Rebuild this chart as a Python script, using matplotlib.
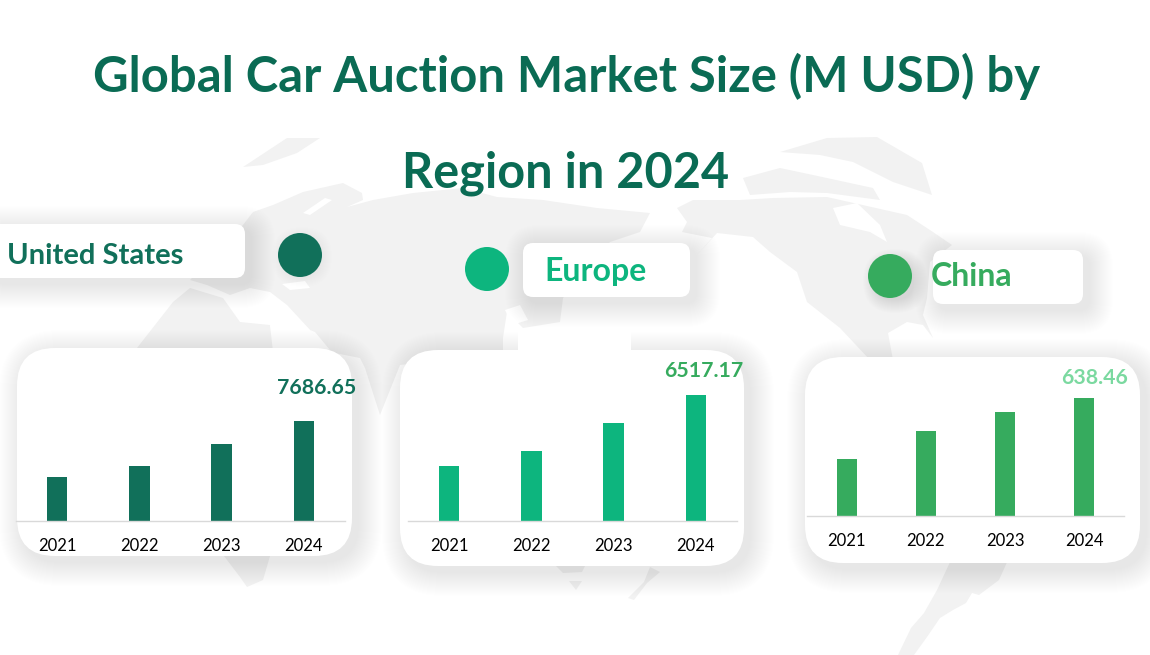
import matplotlib
matplotlib.use("Agg")
from matplotlib import pyplot as plt
from matplotlib.patches import Circle, FancyBboxPatch, Polygon, Rectangle

plt.rcParams['font.family'] = ['Lato', 'DejaVu Sans']

years = ['2021', '2022', '2023', '2024']
us_values = [3382.1, 4227.7, 5918.7, 7686.65]
europe_values = [2844.6, 3620.7, 5068.9, 6517.17]
china_values = [305.6, 458.5, 562.1, 638.46]

title_line1 = 'Global Car Auction Market Size (M USD) by'
title_line2 = 'Region in 2024'

W, H = 1150, 655
DARK = '#0A6B54'
MAP = '#F2F2F2'

fig = plt.figure(figsize=(W / 100, H / 100), dpi=100)
bg = fig.add_axes([0, 0, 1, 1])
bg.set_xlim(0, W)
bg.set_ylim(H, 0)
bg.axis('off')

# background world map, traced roughly in pixels
land = [
    # eurasia
    [(190, 280), (207, 285), (230, 295), (250, 288), (270, 292), (287, 305), (312, 332), (330, 352),
     (360, 358), (365, 368), (380, 415), (400, 365), (503, 352), (503, 338), (507, 312), (523, 328),
     (560, 322), (563, 298), (610, 242), (640, 232), (650, 213), (597, 208), (543, 200), (497, 197),
     (463, 188), (413, 193), (373, 200), (347, 207), (363, 200), (362, 193), (343, 183), (303, 192),
     (273, 205), (253, 212), (243, 225)],
    # africa
    [(137, 348), (173, 302), (190, 288), (223, 298), (240, 322), (270, 325), (276, 352), (137, 352)],
    [(224, 556), (270, 556), (263, 580), (247, 587), (240, 577)],
    # svalbard
    [(243, 167), (287, 138), (320, 138), (297, 153), (263, 165)],
    # north america
    [(677, 208), (693, 200), (740, 200), (773, 198), (827, 197), (907, 215), (933, 232), (952, 245),
     (930, 262), (927, 298), (923, 315), (933, 338), (923, 325), (907, 322), (888, 333), (893, 360),
     (870, 360), (840, 328), (807, 302), (797, 272), (770, 252), (753, 237), (717, 233), (697, 255),
     (712, 238), (682, 232), (687, 222)],
    # arctic islands
    [(743, 178), (780, 168), (813, 175), (873, 188), (880, 200), (827, 193), (790, 192), (750, 195)],
    # greenland
    [(780, 152), (827, 138), (877, 137), (922, 163), (932, 195), (893, 182), (853, 162), (820, 155)],
    # australia, tasmania, new zealand
    [(556, 566), (585, 566), (582, 572), (563, 573)],
    [(569, 581), (582, 581), (576, 590)],
    [(650, 567), (660, 572), (647, 583), (634, 600), (628, 598), (644, 582)],
    # south america
    [(951, 560), (1008, 560), (999, 580), (979, 595), (972, 593), (966, 603), (953, 610), (940, 618),
     (927, 637), (914, 655), (898, 655), (911, 628), (924, 613), (937, 590)],
]
for pts in land:
    bg.add_patch(Polygon(pts, closed=True, fc=MAP, ec='none', zorder=1))

# seas cut out of the map
seas = [
    [(833, 208), (857, 203), (880, 225), (887, 242), (870, 232), (840, 225)],  # hudson bay
    [(282, 284), (305, 281), (310, 288), (290, 290)],  # black sea
    [(270, 325), (276, 325), (279, 352), (273, 352)],  # red sea
    [(310, 330), (315, 332), (330, 350), (322, 348)],  # gulf
    [(303, 213), (325, 198), (332, 200), (310, 215)],  # baltic
    [(505, 310), (520, 305), (528, 320), (512, 325)],  # sea of japan
]
for pts in seas:
    bg.add_patch(Polygon(pts, closed=True, fc='white', ec='none', zorder=1.1))


def shadow(x0, y0, x1, y1, rad, dx=6, dy=6, layers=24, alpha=0.0035):
    for i in range(layers):
        g = layers - i
        bg.add_patch(FancyBboxPatch((x0 + dx - g, y0 + dy - g), x1 - x0 + 2 * g, y1 - y0 + 2 * g,
                                    boxstyle='round,pad=0,rounding_size=%f' % (rad + g),
                                    fc='black', ec='none', alpha=alpha, zorder=2))


def card(x0, y0, x1, y1, rad, **kw):
    shadow(x0, y0, x1, y1, rad, **kw)
    bg.add_patch(FancyBboxPatch((x0, y0), x1 - x0, y1 - y0,
                                boxstyle='round,pad=0,rounding_size=%f' % rad,
                                fc='white', ec='none', zorder=3))


# chart cards
card(17, 348, 352, 556, 38)
card(400, 350, 744, 566, 38)
card(805, 357, 1140, 563, 38)
bg.add_patch(Rectangle((518, 330), 113, 22, fc='white', ec='none', zorder=3))

# name tags
card(-10, 224, 245, 278, 10)
card(523, 243, 690, 297, 10)
card(933, 250, 1083, 304, 10)

# dots
shadow(282, 237, 318, 273, 18, dx=2, dy=2, layers=12, alpha=0.002)
shadow(873, 259, 909, 295, 18, dx=4, dy=4, layers=14, alpha=0.006)
bg.add_patch(Circle((300, 255), 22, fc='#11705A', ec='none', zorder=4))
bg.add_patch(Circle((487, 269), 22, fc='#0DB57E', ec='none', zorder=4))
bg.add_patch(Circle((890, 276), 22, fc='#36AB5E', ec='none', zorder=4))

bg.text(7, 256, 'United States', color='#11705A', fontsize=21, fontweight='bold', va='center', zorder=5)
bg.text(544, 272, 'Europe', color='#0DB57E', fontsize=23, fontweight='bold', va='center', zorder=5)
bg.text(931, 277, 'China', color='#36AB5E', fontsize=23, fontweight='bold', va='center', zorder=5)

bg.text(567, 76.5, title_line1, color=DARK, fontsize=35.3, fontweight='bold', ha='center', va='center', zorder=5)
bg.text(566, 173, title_line2, color=DARK, fontsize=35, fontweight='bold', ha='center', va='center', zorder=5)


def bar_panel(left, right, base, height, values, ymax, color, label_color, label_dx, label_dy):
    ax = fig.add_axes([left / W, 1 - base / H, (right - left) / W, height / H])
    ax.patch.set_alpha(0)
    ax.bar(years, values, width=0.25, color=color)
    ax.set_xlim(-0.5, 3.5)
    ax.set_ylim(0, ymax)
    ax.set_yticks([])
    for s in ['top', 'left', 'right']:
        ax.spines[s].set_visible(False)
    ax.spines['bottom'].set_color('#D9D9D9')
    ax.spines['bottom'].set_linewidth(1)
    ax.tick_params(axis='x', length=0, pad=12.5, labelsize=12, labelcolor='black')
    ax.annotate('%.2f' % values[-1], xy=(3, values[-1]), xytext=(label_dx, label_dy),
                textcoords='offset pixels', ha='center', va='center',
                color=label_color, fontsize=15.3, fontweight='bold', annotation_clip=False)
    return ax


bar_panel(16, 345, 521, 140, us_values, 10761, '#11705A', '#11705A', 13, 33)
bar_panel(408, 737, 521, 160, europe_values, 8276, '#0DB57E', '#36AB5E', 8, 24.5)
bar_panel(807, 1124, 515.5, 150, china_values, 818.5, '#36AB5E', '#7BD9A0', 10, 20.5)

fig.savefig('out.png', dpi=100)
